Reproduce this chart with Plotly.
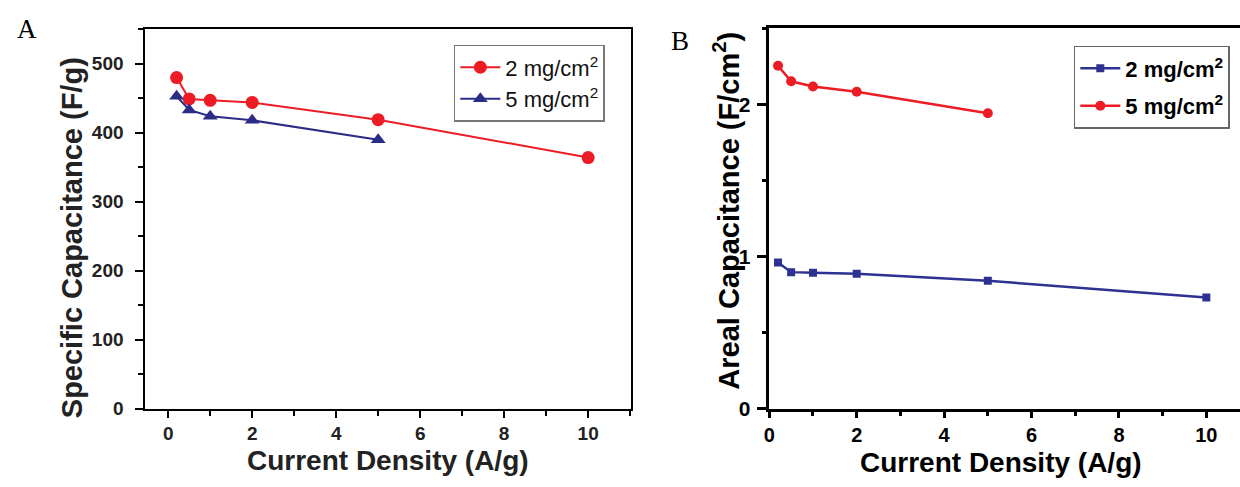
import plotly.graph_objects as go

# ---- Data ----
# Panel A: specific capacitance (F/g) vs current density (A/g)
a_x_2mg = [0.2, 0.5, 1, 2, 5, 10]
a_y_2mg = [480, 449, 447, 444, 419, 364]
a_x_5mg = [0.2, 0.5, 1, 2, 5]
a_y_5mg = [453, 433, 424, 418, 390]

# Panel B: areal capacitance (F/cm2) vs current density (A/g)
b_x_2mg = [0.2, 0.5, 1, 2, 5, 10]
b_y_2mg = [0.96, 0.897, 0.893, 0.887, 0.84, 0.731]
b_x_5mg = [0.2, 0.5, 1, 2, 5]
b_y_5mg = [2.254, 2.152, 2.118, 2.083, 1.942]

x_ticks = [0, 2, 4, 6, 8, 10]
a_y_ticks = [0, 100, 200, 300, 400, 500]
b_y_ticks = [0, 1, 2]

label_2mg = "2 mg/cm<sup>2</sup>"
label_5mg = "5 mg/cm<sup>2</sup>"

RED = "#ED1C24"
BLUE_A = "#2B2C86"
BLUE_B = "#2E3192"
FONT = "Liberation Sans, Arial, sans-serif"
SERIF = "Liberation Serif, Times New Roman, serif"

W, H = 1240, 487
def px(x):
    return x / W
def py(y):
    return 1 - y / H

fig = go.Figure()

# Panel A traces
fig.add_trace(go.Scatter(x=a_x_2mg, y=a_y_2mg, mode="lines+markers", name=label_2mg,
                         line=dict(color=RED, width=2),
                         marker=dict(symbol="circle", size=13, color=RED),
                         xaxis="x", yaxis="y", legend="legend"))
fig.add_trace(go.Scatter(x=a_x_5mg, y=a_y_5mg, mode="lines+markers", name=label_5mg,
                         line=dict(color=BLUE_A, width=2),
                         marker=dict(symbol="triangle-up", size=13, color=BLUE_A),
                         xaxis="x", yaxis="y", legend="legend"))

# Panel B traces
fig.add_trace(go.Scatter(x=b_x_2mg, y=b_y_2mg, mode="lines+markers", name=label_2mg,
                         line=dict(color=BLUE_B, width=2.5),
                         marker=dict(symbol="square", size=8, color=BLUE_B),
                         xaxis="x2", yaxis="y2", legend="legend2", legendgroup="b1"))
fig.add_trace(go.Scatter(x=b_x_5mg, y=b_y_5mg, mode="lines+markers", name=label_5mg,
                         line=dict(color=RED, width=2.5),
                         marker=dict(symbol="circle", size=10, color=RED),
                         xaxis="x2", yaxis="y2", legend="legend2", legendgroup="b2"))

axis_common = dict(showgrid=False, zeroline=False, showline=True, linecolor="black",
                   ticks="outside", tickcolor="black")

fig.update_layout(
    width=W, height=H,
    margin=dict(l=0, r=0, t=0, b=0),
    paper_bgcolor="white", plot_bgcolor="white",
    font=dict(family=FONT, color="#111"),
    xaxis=dict(axis_common, domain=[px(140), px(628)], range=[-0.545, 11.02],
               tickvals=x_ticks, linewidth=2, mirror=True,
               ticklen=7, tickwidth=2, ticklabelstandoff=0,
               minor=dict(ticks="outside", dtick=1, tick0=0, ticklen=5, tickwidth=2, tickcolor="black"),
               tickfont=dict(size=19, weight="bold", color="#222"),
               anchor="y"),
    yaxis=dict(axis_common, domain=[py(418), py(30)], range=[0, 550],
               tickvals=a_y_ticks, linewidth=2, mirror=True,
               ticklen=8, tickwidth=2, ticklabelstandoff=8,
               minor=dict(ticks="outside", dtick=50, tick0=0, ticklen=5, tickwidth=2, tickcolor="black"),
               tickfont=dict(size=19, weight="bold", color="#222"),
               anchor="x"),
    xaxis2=dict(axis_common, domain=[px(767), 1.0], range=[0, 10.77],
                tickvals=x_ticks, linewidth=2.5, mirror=True,
                ticklen=7, tickwidth=2.5, ticklabelstandoff=0,
                minor=dict(ticks="outside", dtick=1, tick0=0, ticklen=5, tickwidth=2.5, tickcolor="black"),
                tickfont=dict(size=20, weight="bold", color="black"),
                anchor="y2"),
    yaxis2=dict(axis_common, domain=[py(418), py(29)], range=[0, 2.5],
                tickvals=b_y_ticks, linewidth=2.5, mirror=False,
                ticklen=10, tickwidth=2.5, ticklabelstandoff=2,
                minor=dict(ticks="outside", dtick=0.5, tick0=0, ticklen=5, tickwidth=2.5, tickcolor="black"),
                tickfont=dict(size=21, weight="bold", color="black"),
                anchor="x2"),
    legend=dict(x=px(450), y=py(46), xanchor="left", yanchor="top",
                bgcolor="white", bordercolor="#777", borderwidth=1.5,
                font=dict(size=22, color="#111", family=FONT),
                itemwidth=40, tracegroupgap=0),
    legend2=dict(x=px(1073), y=py(47), xanchor="left", yanchor="top",
                 bgcolor="white", bordercolor="#666", borderwidth=1.5,
                 font=dict(size=22, color="black", family=FONT, weight="bold"),
                 itemwidth=40, tracegroupgap=6),
    showlegend=True,
)

def ann(text, x, y, size, family=FONT, weight="normal", color="black", angle=0):
    return dict(text=text, x=px(x), y=py(y), xref="paper", yref="paper", showarrow=False,
                xanchor="center", yanchor="middle", textangle=angle,
                font=dict(family=family, size=size, weight=weight, color=color))

annotations = [
    ann("A", 21, 30, 27, family=SERIF),
    ann("B", 677, 42, 27, family=SERIF),
    ann("Specific Capacitance (F/g)", 66, 243, 29, weight="bold", color="#222", angle=-90),
    ann("Current Density (A/g)", 384, 471, 28, weight="bold", color="#222"),
    ann("Areal Capacitance (F/cm<sup>2</sup>)", 724, 215, 29, weight="bold", angle=-90),
    ann("Current Density (A/g)", 1000, 473, 28, weight="bold"),
]
fig.update_layout(annotations=annotations)

fig.write_html("out.html", config={"displayModeBar": False},
               post_script="document.body.style.margin='0';document.body.style.overflow='hidden';")
